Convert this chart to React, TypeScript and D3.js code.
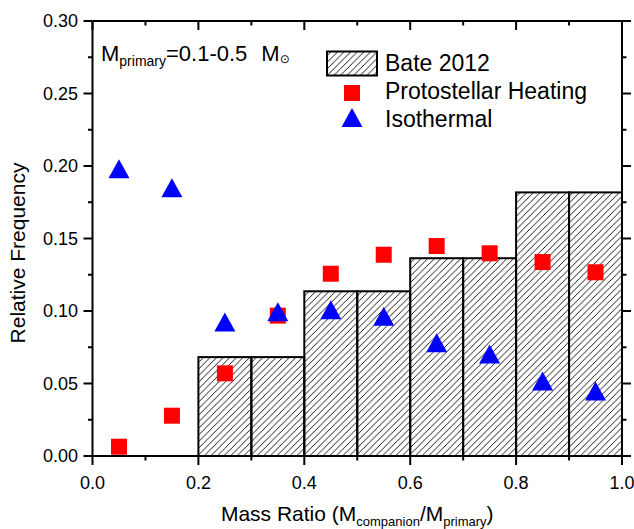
import React from "react";
import * as d3 from "d3";

const binStarts = [0.2, 0.3, 0.4, 0.5, 0.6, 0.7, 0.8, 0.9];
const binWidth = 0.1;
const bateFreq = [0.0682, 0.0682, 0.1136, 0.1136, 0.1364, 0.1364, 0.1818, 0.1818];
const ratioCenters = [0.05, 0.15, 0.25, 0.35, 0.45, 0.55, 0.65, 0.75, 0.85, 0.95];
const protostellar = [0.0064, 0.0278, 0.057, 0.0968, 0.1257, 0.1388, 0.1448, 0.1398, 0.1338, 0.1267];
const isothermal = [0.1981, 0.185, 0.0924, 0.0995, 0.1009, 0.0963, 0.0781, 0.0703, 0.0517, 0.0448];
const xMajor = [0, 0.2, 0.4, 0.6, 0.8, 1.0];
const xMinor = [0.1, 0.3, 0.5, 0.7, 0.9];
const yMajor = [0, 0.05, 0.1, 0.15, 0.2, 0.25, 0.3];
const yMinor = [0.025, 0.075, 0.125, 0.175, 0.225, 0.275];

const W = 634, H = 529;
const L = 92.5, R = 622, T = 21, B = 456;
const FONT = "'Liberation Sans', Arial, sans-serif";

export default function App() {
  const x = d3.scaleLinear().domain([0, 1]).range([L, R]);
  const y = d3.scaleLinear().domain([0, 0.3]).range([B, T]);
  const sq = 16;
  const tw = 21, th = 19;
  const tri = (cx: number, cy: number) =>
    `M${cx},${cy - th / 2}L${cx - tw / 2},${cy + th / 2}L${cx + tw / 2},${cy + th / 2}Z`;
  const maj = 9, min = 4.5;
  return (
    <svg width={W} height={H} style={{ position: "absolute", left: 0, top: 0, background: "#fff" }} fontFamily={FONT}>
      <defs>
        <pattern id="hatch" patternUnits="userSpaceOnUse" width={6.6} height={6.6}>
          <path d="M0,6.6L6.6,0M-1,1L1,-1M5.6,7.6L7.6,5.6" stroke="#000" strokeWidth={0.9} />
        </pattern>
      </defs>
      <rect x={0} y={0} width={W} height={H} fill="#fff" />
      {/* bars */}
      {binStarts.map((s, i) => (
        <rect key={"b" + i} x={x(s)} y={y(bateFreq[i])} width={x(s + binWidth) - x(s)} height={y(0) - y(bateFreq[i])}
          fill="url(#hatch)" stroke="#000" strokeWidth={2} />
      ))}
      {/* squares */}
      {ratioCenters.map((c, i) => (
        <rect key={"s" + i} x={x(c) - sq / 2} y={y(protostellar[i]) - sq / 2} width={sq} height={sq} fill="#ff0000" />
      ))}
      {/* triangles */}
      {ratioCenters.map((c, i) => (
        <path key={"t" + i} d={tri(x(c), y(isothermal[i]))} fill="#0000ff" />
      ))}
      {/* axes frame */}
      <g stroke="#000" strokeWidth={2} fill="none">
        <line x1={L} x2={R} y1={B} y2={B} />
        <line x1={L} x2={R} y1={T} y2={T} />
        <line x1={L} x2={L} y1={T} y2={B} />
        <line x1={R} x2={R} y1={T} y2={B} />
        {xMajor.map((v) => <line key={"xb" + v} x1={x(v)} x2={x(v)} y1={B} y2={B + maj} />)}
        {xMinor.map((v) => <line key={"xbm" + v} x1={x(v)} x2={x(v)} y1={B} y2={B + min} />)}
        {xMajor.map((v) => <line key={"xt" + v} x1={x(v)} x2={x(v)} y1={T} y2={T + maj} />)}
        {xMinor.map((v) => <line key={"xtm" + v} x1={x(v)} x2={x(v)} y1={T} y2={T + min} />)}
        {yMajor.map((v) => <line key={"yl" + v} x1={L - maj} x2={L} y1={y(v)} y2={y(v)} />)}
        {yMinor.map((v) => <line key={"ylm" + v} x1={L - min} x2={L} y1={y(v)} y2={y(v)} />)}
        {yMajor.map((v) => <line key={"yr" + v} x1={R} x2={R + maj} y1={y(v)} y2={y(v)} />)}
        {yMinor.map((v) => <line key={"yrm" + v} x1={R} x2={R + min} y1={y(v)} y2={y(v)} />)}
      </g>
      {/* tick labels */}
      <g fontSize={18} fill="#000">
        {xMajor.map((v) => (
          <text key={"xl" + v} x={x(v)} y={489} textAnchor="middle">{d3.format(".1f")(v)}</text>
        ))}
        {yMajor.map((v) => (
          <text key={"yl" + v} x={78} y={y(v)} dy="0.35em" textAnchor="end">{d3.format(".2f")(v)}</text>
        ))}
      </g>
      {/* axis titles */}
      <text x={(L + R) / 2} y={521} fontSize={21} textAnchor="middle" style={{ whiteSpace: "pre" }}>
        Mass Ratio (M<tspan fontSize={13} dy={5}>companion</tspan><tspan dy={-5}>/M</tspan><tspan fontSize={13} dy={5}>primary</tspan><tspan dy={-5}>)</tspan>
      </text>
      <text transform="translate(25,253) rotate(-90)" textAnchor="middle" fontSize={21}>Relative Frequency</text>
      {/* annotation */}
      <text x={101} y={61} fontSize={22} style={{ whiteSpace: "pre" }}>
        M<tspan fontSize={14} dy={5}>primary</tspan><tspan dy={-5}>=0.1-0.5</tspan><tspan dx={14}>M</tspan><tspan fontSize={12} dy={2} fontFamily="'DejaVu Sans', sans-serif">⊙</tspan>
      </text>
      {/* legend */}
      <rect x={327} y={51.5} width={50} height={24} fill="url(#hatch)" stroke="#000" strokeWidth={2} />
      <text x={385} y={71} fontSize={23}>Bate 2012</text>
      <rect x={352 - sq / 2} y={93 - sq / 2} width={sq} height={sq} fill="#ff0000" />
      <text x={385} y={99} fontSize={23}>Protostellar Heating</text>
      <path d={tri(352, 117.5)} fill="#0000ff" />
      <text x={385} y={127} fontSize={23}>Isothermal</text>
    </svg>
  );
}
